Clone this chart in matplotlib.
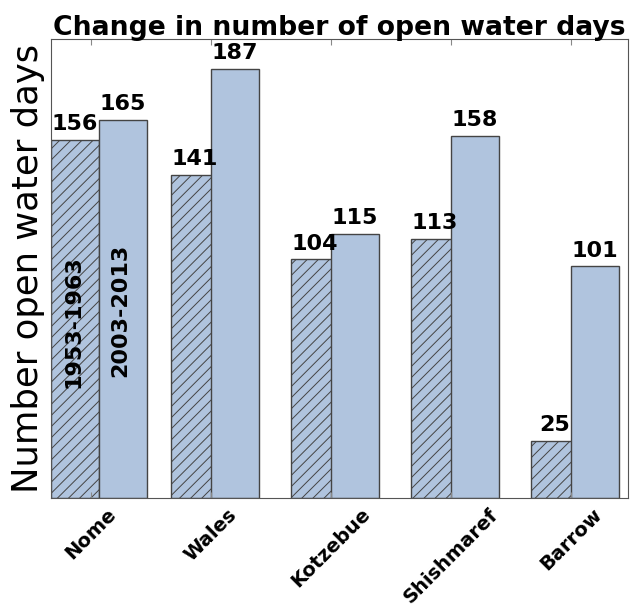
import numpy as np
import matplotlib
matplotlib.use('Agg')
import matplotlib.pyplot as plt

# data
towns = ['Nome', 'Wales', 'Kotzebue', 'Shishmaref', 'Barrow']
days_1953_1963 = [156, 141, 104, 113, 25]
days_2003_2013 = [165, 187, 115, 158, 101]
period_labels = ['1953-1963', '2003-2013']

bar_color = '#B0C4DE'
edge = '#444444'
plt.rcParams['hatch.linewidth'] = 0.7

fig = plt.figure(figsize=(6.3, 6.05), dpi=100)
ax = fig.add_axes([0.081, 0.177, 0.916, 0.758])

ind = np.arange(len(towns))
width = 0.4
# second bars overlap the first ones a bit (except Nome)
offset = np.full(len(towns), 1 / 3)
offset[0] = 0.4

bars1 = ax.bar(ind, days_1953_1963, width, align='edge', color=bar_color,
               edgecolor=edge, hatch='///', linewidth=1)
bars2 = ax.bar(ind + offset, days_2003_2013, width, align='edge', color=bar_color,
               edgecolor=edge, linewidth=1)

# value labels on top of the bars
for rect in list(bars1) + list(bars2):
    h = rect.get_height()
    ax.text(rect.get_x() + rect.get_width() / 2, h + 2.5, '%d' % h,
            ha='center', va='bottom', fontsize=16, fontweight='bold')

# period labels inside the Nome bars
ax.text(ind[0] + 0.19, 77, period_labels[0], rotation=90, ha='center', va='center',
        fontsize=16, fontweight='bold')
ax.text(ind[0] + 0.58, 82, period_labels[1], rotation=90, ha='center', va='center',
        fontsize=16, fontweight='bold')

ax.set_xlim(0, 4.81)
ax.set_ylim(0, 200)
ax.set_xticks(ind + 1 / 3)
ax.set_xticklabels(towns, rotation=45, fontsize=14, fontweight='bold')
ax.set_yticks([])
ax.tick_params(axis='x', direction='in', top=True, length=4, color='#888888', pad=5)
for s in ax.spines.values():
    s.set_color('#555555')

ax.set_ylabel('Number open water days', fontsize=25.5)
ax.set_title('Change in number of open water days', fontsize=19.2, fontweight='bold', pad=3)

fig.savefig('out.png', dpi=100)
